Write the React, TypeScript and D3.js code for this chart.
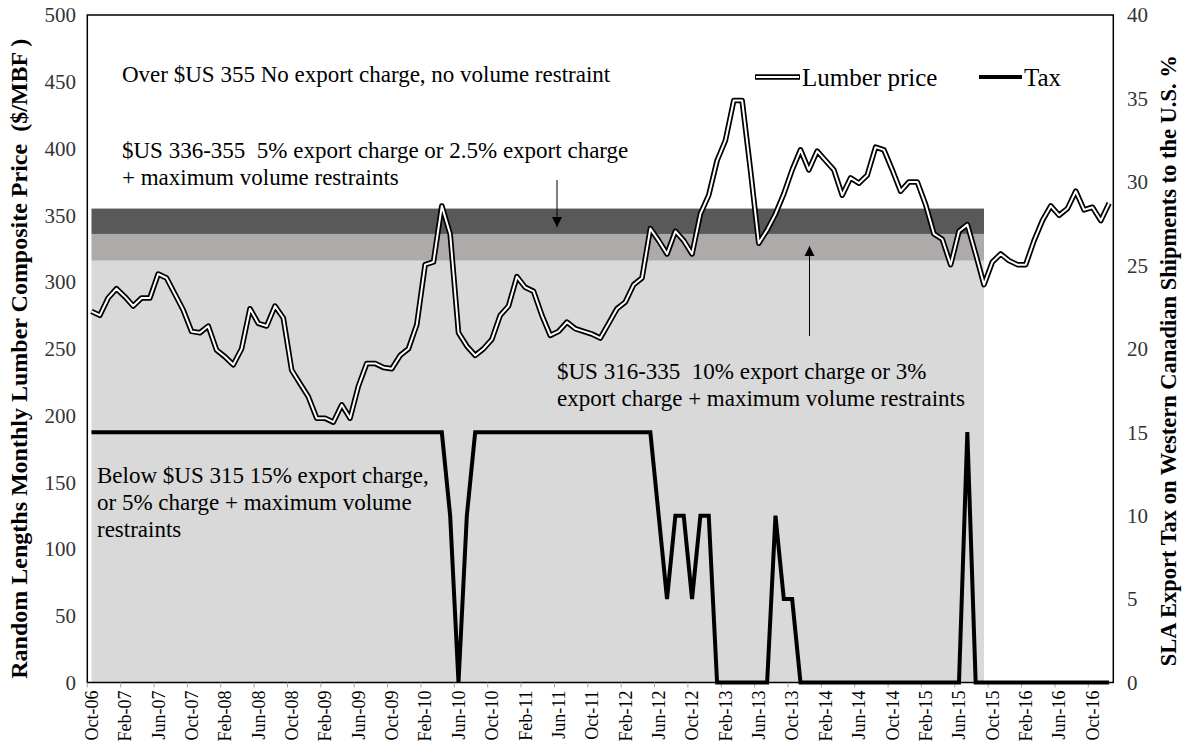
import React from "react";
import * as d3 from "d3";

// monthly categories Oct-06 .. Dec-16
const startMonth = new Date(2006, 9, 1);
const monthCount = 123;

// Random Lengths composite price, $/MBF
const lumberPrice = [
  278, 275, 288, 295, 289, 282, 288, 288, 306, 303,
  291, 279, 263, 262, 267, 249, 244, 238, 250, 280,
  269, 267, 282, 273, 234, 224, 214, 198, 198, 195,
  208, 198, 222, 239, 239, 236, 235, 245, 250, 268,
  313, 315, 357, 336, 262, 252, 245, 250, 257, 275,
  282, 304, 296, 293, 275, 260, 263, 270, 265, 263,
  261, 258, 269, 280, 285, 298, 303, 340, 331, 321,
  338, 331, 321, 351, 365, 391, 406, 436, 436, 384,
  329, 339, 351, 366, 384, 399, 384, 398, 391, 384,
  365, 378, 374, 380, 401, 399, 384, 368, 375, 375,
  358, 336, 332, 313, 338, 343, 321, 298, 315, 321,
  316, 313, 313, 331, 346, 357, 350, 355, 368, 354,
  356, 346, 359,
];

// SLA export tax, %
const taxRate = [
  15, 15, 15, 15, 15, 15, 15, 15, 15, 15,
  15, 15, 15, 15, 15, 15, 15, 15, 15, 15,
  15, 15, 15, 15, 15, 15, 15, 15, 15, 15,
  15, 15, 15, 15, 15, 15, 15, 15, 15, 15,
  15, 15, 15, 10, 0, 10, 15, 15, 15, 15,
  15, 15, 15, 15, 15, 15, 15, 15, 15, 15,
  15, 15, 15, 15, 15, 15, 15, 15, 10, 5,
  10, 10, 5, 10, 10, 0, 0, 0, 0, 0,
  0, 0, 10, 5, 5, 0, 0, 0, 0, 0,
  0, 0, 0, 0, 0, 0, 0, 0, 0, 0,
  0, 0, 0, 0, 0, 15, 0, 0, 0, 0,
  0, 0, 0, 0, 0, 0, 0, 0, 0, 0,
  0, 0, 0,
];

// price bands of the agreement (last month the bands are drawn = Sep-15)
const bandEndIndex = 107;
const priceBands = [
  { from: 0, to: 316, color: "#d9d9d9" },
  { from: 316, to: 336, color: "#aeaaaa" },
  { from: 336, to: 355, color: "#595959" },
];

const leftTicks = [0, 50, 100, 150, 200, 250, 300, 350, 400, 450, 500];
const rightTicks = [0, 5, 10, 15, 20, 25, 30, 35, 40];

const serif = '"Liberation Serif", "Times New Roman", serif';

export default function App() {
  const width = 1182;
  const height = 751;
  const left = 87.3;
  const right = 1113.3;
  const top = 15;
  const bottom = 682.5;

  const months = d3.timeMonth.range(startMonth, d3.timeMonth.offset(startMonth, monthCount));
  const fmt = d3.timeFormat("%b-%y");

  const x = d3.scaleBand<number>().domain(d3.range(monthCount)).range([left, right]).padding(0);
  const xc = (i: number) => x(i)! + x.bandwidth() / 2;
  const y = d3.scaleLinear().domain([0, 500]).range([bottom, top]);
  const y2 = d3.scaleLinear().domain([0, 40]).range([bottom, top]);

  const priceLine = d3.line<number>().x((_, i) => xc(i)).y((d) => y(d));
  const taxLine = d3.line<number>().x((_, i) => xc(i)).y((d) => y2(d));

  const labelIdx = d3.range(0, monthCount, 4).filter((i) => i <= 120);

  const annot = { fontFamily: serif, fontSize: 23, fill: "#000", whiteSpace: "pre" as const };

  return (
    <div style={{ position: "absolute", left: 0, top: 0 }}>
      <svg width={width} height={height} style={{ display: "block", background: "#fff" }}>
        <defs>
          <marker id="arrow" viewBox="0 0 10 10" refX="10" refY="5" markerWidth="10" markerHeight="12" orient="auto" markerUnits="userSpaceOnUse">
            <path d="M0,0 L10,5 L0,10 z" fill="#000" />
          </marker>
        </defs>

        {priceBands.map((b, i) => (
          <rect key={i} x={xc(0)} width={xc(bandEndIndex) - xc(0)} y={y(b.to)} height={y(b.from) - y(b.to)} fill={b.color} />
        ))}

        {/* frame */}
        <rect x={left} y={top} width={right - left} height={bottom - top} fill="none" stroke="#000" strokeWidth={1.5} />

        {/* x ticks and labels */}
        {labelIdx.map((i) => (
          <g key={i}>
            <line x1={x(i)} x2={x(i)} y1={bottom} y2={bottom + 5} stroke="#a6a6a6" strokeWidth={1} />
            <text
              transform={`translate(${xc(i)},${bottom + 8}) rotate(-90)`}
              textAnchor="end"
              dy="0.35em"
              style={{ fontFamily: serif, fontSize: 18 }}
            >
              {fmt(months[i])}
            </text>
          </g>
        ))}

        {leftTicks.map((t) => (
          <text key={t} x={76} y={y(t)} dy="0.35em" textAnchor="end" style={{ fontFamily: serif, fontSize: 21, fill: "#333" }}>
            {t}
          </text>
        ))}
        {rightTicks.map((t) => (
          <text key={t} x={1127} y={y2(t)} dy="0.35em" textAnchor="start" style={{ fontFamily: serif, fontSize: 21, fill: "#333" }}>
            {t}
          </text>
        ))}

        <text
          transform={`translate(27,${(top + bottom) / 2 + 10}) rotate(-90)`}
          textAnchor="middle"
          style={{ fontFamily: serif, fontSize: 24, fontWeight: "bold", whiteSpace: "pre" }}
        >
          Random Lengths Monthly Lumber Composite Price  ($/MBF )
        </text>
        <text
          transform={`translate(1176,${(top + bottom) / 2 + 12}) rotate(-90)`}
          textAnchor="middle"
          style={{ fontFamily: serif, fontSize: 22.5, fontWeight: "bold" }}
        >
          SLA Export Tax on Western Canadian Shipments to the U.S. %
        </text>

        {/* annotations */}
        <text x={122} y={82} style={annot}>Over $US 355 No export charge, no volume restraint</text>
        <text x={122} y={158} style={annot}>$US 336-355  5% export charge or 2.5% export charge</text>
        <text x={122} y={185} style={annot}>+ maximum volume restraints</text>
        <text x={557} y={379} style={annot}>$US 316-335  10% export charge or 3%</text>
        <text x={557} y={406} style={annot}>export charge + maximum volume restraints</text>
        <text x={97} y={483} style={annot}>Below $US 315 15% export charge,</text>
        <text x={97} y={510} style={annot}>or 5% charge + maximum volume</text>
        <text x={97} y={537} style={annot}>restraints</text>

        <line x1={557} x2={557} y1={180} y2={227} stroke="#000" strokeWidth={1} markerEnd="url(#arrow)" />
        <line x1={809.5} x2={809.5} y1={336} y2={246} stroke="#000" strokeWidth={1} markerEnd="url(#arrow)" />

        {/* series */}
        <path d={taxLine(taxRate)!} fill="none" stroke="#000" strokeWidth={4} />
        <path d={priceLine(lumberPrice)!} fill="none" stroke="#000" strokeWidth={5.5} strokeLinejoin="round" />
        <path d={priceLine(lumberPrice)!} fill="none" stroke="#fff" strokeWidth={2} strokeLinejoin="round" />

        {/* legend */}
        <line x1={755} x2={800} y1={77} y2={77} stroke="#000" strokeWidth={5.5} />
        <line x1={756} x2={799} y1={77} y2={77} stroke="#fff" strokeWidth={2} />
        <text x={802} y={77} dy="0.35em" style={{ fontFamily: serif, fontSize: 25 }}>Lumber price</text>
        <line x1={979} x2={1022} y1={77} y2={77} stroke="#000" strokeWidth={4} />
        <text x={1024} y={77} dy="0.35em" style={{ fontFamily: serif, fontSize: 25 }}>Tax</text>
      </svg>
    </div>
  );
}
